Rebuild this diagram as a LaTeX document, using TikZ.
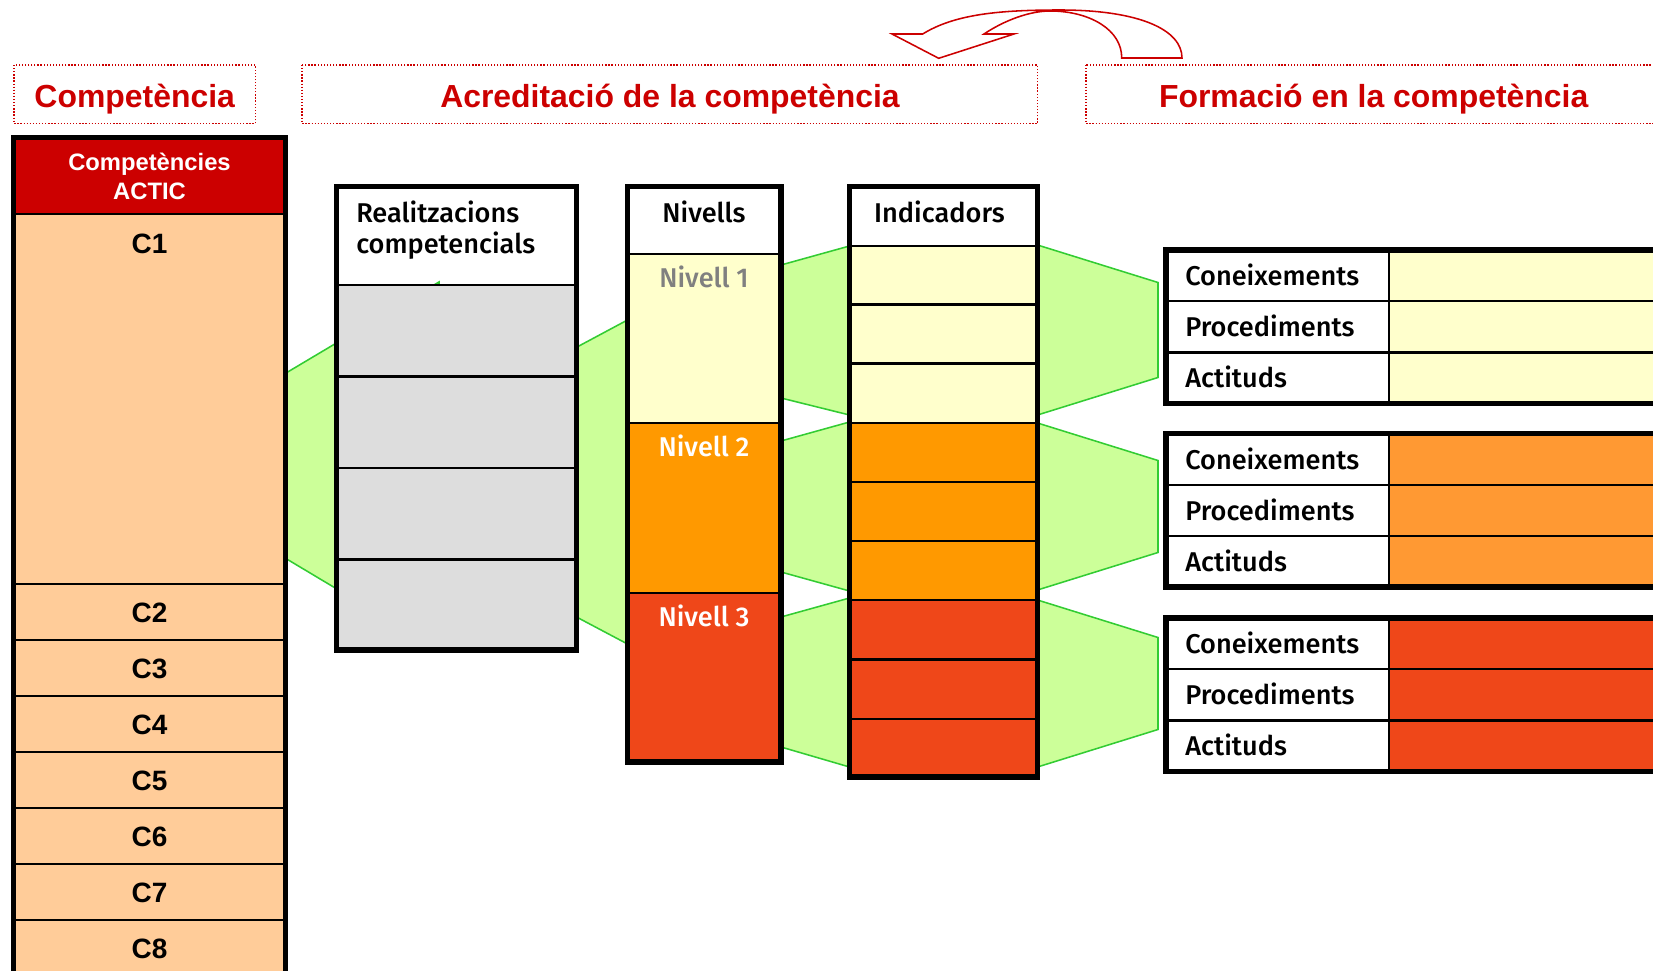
\documentclass[tikz,border=0pt]{standalone}
\usepackage{fontspec}
\usetikzlibrary{calc}
\newfontfamily\headfont{Liberation Sans}
\newfontfamily\labfont{Fira Sans Medium}

\definecolor{actred}{HTML}{CC0000}
\definecolor{peach}{HTML}{FFCC99}
\definecolor{realgray}{HTML}{DDDDDD}
\definecolor{lvlone}{HTML}{FFFFCC}
\definecolor{lvltwo}{HTML}{FF9900}
\definecolor{lvlthree}{HTML}{EF4719}
\definecolor{grptwo}{HTML}{FF9933}
\definecolor{linkfill}{HTML}{CCFF99}
\definecolor{linkline}{HTML}{33CC33}

\begin{document}
\begin{tikzpicture}[x=0.025cm,y=-0.025cm,
  hdrbox/.style={draw=actred,line width=0.9pt,dash pattern=on 0.9pt off 1.3pt},
  hdrtxt/.style={text=actred,font=\headfont\bfseries\fontsize{22.7}{26}\selectfont,inner sep=0pt,anchor=base},
  band/.style={fill=linkfill,draw=linkline,line width=1.1pt},
  rim/.style={line width=3.6pt},
  row/.style={line width=1.6pt},
  cnum/.style={font=\headfont\bfseries\fontsize{19.9}{22}\selectfont,inner sep=0pt,anchor=base},
  lab/.style={font=\labfont\fontsize{19.3}{22}\selectfont,inner sep=0pt,anchor=base}]

\useasboundingbox (0,0) rectangle (1653,971);
\clip (0,0) rectangle (1653,971);

% column edges
\coordinate (compR) at (285.5,0);
\coordinate (realL) at (336.5,0);
\coordinate (realR) at (576.5,0);
\coordinate (nivL) at (627.5,0);
\coordinate (nivR) at (781,0);
\coordinate (indL) at (849.5,0);
\coordinate (indR) at (1037.5,0);
\coordinate (grpL) at (1158,0);

% green links
\draw[band] ($(compR)+(0,373.3)$) -- (439,282) -- (439,650) -- ($(compR)+(0,558.3)$) -- cycle;
\draw[band] ($(realR)+(0,347.3)$) -- ($(nivL)+(0,320)$) -- ($(nivL)+(0,644)$) -- ($(realR)+(0,617)$) -- cycle;
\foreach \a/\b/\c/\d in {265/246/398/415,441/422/572/591,617/598/747/767}
  \draw[band] ($(nivR)+(0,\a)$) -- ($(indL)+(0,\b)$) -- ($(indL)+(0,\d)$) -- ($(nivR)+(0,\c)$) -- cycle;
\foreach \a/\b/\c/\d in {245/282.5/415/377.5,423/460.5/590/552.5,600/637.5/767/729.5}
  \draw[band] ($(indR)+(0,\a)$) -- ($(grpL)+(0,\b)$) -- ($(grpL)+(0,\d)$) -- ($(indR)+(0,\c)$) -- cycle;

% Competencies column
\fill[actred] (13.5,137.5) rectangle (285.5,214);
\fill[peach] (13.5,214) rectangle (285.5,990);
\draw[line width=1pt] (13.5,214) -- (285.5,214);
\foreach \y in {584,640,696,752,808,864,920}
  \draw[row] (13.5,\y) -- (285.5,\y);
\draw[rim] (13.5,990) -- (13.5,137.5) -- (285.5,137.5) -- (285.5,990);
\node[text=white,font=\headfont\bfseries\fontsize{16.9}{20}\selectfont,inner sep=0pt,anchor=base] (acthead) at (149.5,170.5) {Competències};
\node[text=white,font=\headfont\bfseries\fontsize{16.9}{20}\selectfont,inner sep=0pt,anchor=base] (acttic) at (149.5,199.5) {ACTIC};
\node[cnum] (c1) at (149.5,253.5) {C1};
\foreach \n/\y in {2/622,3/678,4/734,5/790,6/846,7/902,8/958}
  \node[cnum] (c\n) at (149.5,\y) {C\n};

% Realitzacions
\fill[realgray] (336.5,285) rectangle (576.5,650);
\foreach \y in {285,376.5,468,559.5}
  \draw[row] (336.5,\y) -- (576.5,\y);
\draw[rim] (336.5,186.5) rectangle (576.5,650);
\node[lab,anchor=base west] (real) at (356,223) {Realitzacions};
\node[lab,anchor=base west] (realb) at (356,254) {competencials};

% Nivells
\fill[white] (627.5,186.5) rectangle (781,254);
\fill[lvlone] (627.5,254) rectangle (781,423);
\fill[lvltwo] (627.5,423) rectangle (781,593);
\fill[lvlthree] (627.5,593) rectangle (781,762);
\foreach \y in {254,423,593}
  \draw[row] (627.5,\y) -- (781,\y);
\draw[rim] (627.5,186.5) rectangle (781,762);
\node[lab] (niv) at (704,223) {Nivells};
\node[lab,text=black!50] (niv1) at (704,287.5) {Nivell 1};
\node[lab,text=white] (niv2) at (704,456.5) {Nivell 2};
\node[lab,text=white] (niv3) at (704,626.5) {Nivell 3};

% Indicadors
\fill[white] (849.5,186.5) rectangle (1037.5,246);
\fill[lvlone] (849.5,246) rectangle (1037.5,423);
\fill[lvltwo] (849.5,423) rectangle (1037.5,600);
\fill[lvlthree] (849.5,600) rectangle (1037.5,777);
\foreach \y in {246,304.5,363.5,423,482,541,600,659.5,719}
  \draw[row] (849.5,\y) -- (1037.5,\y);
\draw[rim] (849.5,186.5) rectangle (1037.5,777);
\node[lab] (ind) at (939.5,222.5) {Indicadors};

% Formacio groups
\foreach \t/\c [count=\k] in {250/lvlone,433.5/grptwo,618/lvlthree}{
  \fill[white] (1166,\t) rectangle (1389,\t+153.5);
  \fill[\c] (1389,\t) rectangle (1700,\t+153.5);
  \draw[row] (1166,\t+51.2) -- (1700,\t+51.2);
  \draw[row] (1166,\t+102.4) -- (1700,\t+102.4);
  \draw[row] (1389,\t) -- (1389,\t+153.5);
  \draw[rim] (1700,\t) -- (1166,\t) -- (1166,\t+153.5) -- (1700,\t+153.5);
  \node[lab,anchor=base west] (con\k) at (1185,\t+35.5) {Coneixements};
  \node[lab,anchor=base west] (proc\k) at (1185,\t+86.7) {Procediments};
  \node[lab,anchor=base west] (act\k) at (1185,\t+137.9) {Actituds};
}

% headers
\draw[hdrbox] (14,65) rectangle (255.5,123.5);
\node[hdrtxt] (hcomp) at (134.7,108) {Competència};
\draw[hdrbox] (302,65) rectangle (1037.7,123.5);
\node[hdrtxt] (hacred) at (670,108) {Acreditació de la competència};
\draw[hdrbox] (1086,65) rectangle (1661,123.5);
\node[hdrtxt] (hform) at (1373.7,108) {Formació en la competència};

% curved arrow
\draw[actred,line width=1.1pt,line join=miter] (938.7,58.3) -- (892,34) -- (922.7,34)
  .. controls (955,14) and (1000,10) .. (1060,10)
  .. controls (1140,10) and (1182,30) .. (1182,58) -- (1121.7,58)
  .. controls (1122,30) and (1090,11) .. (1050,11)
  .. controls (1030,11) and (1005,20) .. (984,34) -- (1014,34) -- cycle;
\end{tikzpicture}
\end{document}
